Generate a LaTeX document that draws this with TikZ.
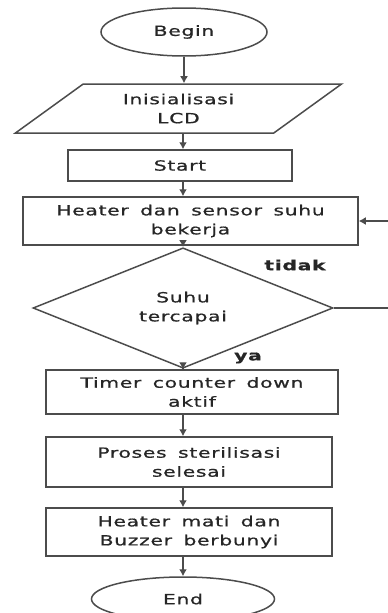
\documentclass[tikz,border=0pt]{standalone}
\usepackage{fontspec}
\setmainfont{DejaVu Sans}[FakeStretch=1.45,LetterSpace=5,WordSpace=1.6,FakeBold=0.8]
\usepackage{tikz}
\usetikzlibrary{shapes.geometric,arrows.meta}
\tikzset{
  every node/.style={
    font=\fontsize{14}{19}\selectfont,
    text=black!85
  },
  line/.style={
    draw=black!70,
    line width=1.5pt
  },
  flow/.style={
    line,
    -{Latex[length=7pt,width=8pt]}
  },
  terminal/.style={
    shape=ellipse,
    line,
    inner sep=0pt
  },
  io/.style={
    shape=trapezium,
    trapezium left angle=37,
    trapezium right angle=143,
    trapezium stretches=true,
    line,
    inner sep=0pt,
    align=center
  },
  process/.style={
    shape=rectangle,
    line,
    inner sep=0pt,
    align=center
  },
  decision/.style={
    shape=diamond,
    line,
    inner sep=0pt,
    align=center
  },
  branch/.style={
    font=\bfseries\fontsize{14}{19}\selectfont
  }
}

\begin{document}
\begin{tikzpicture}[x=1pt,y=-1pt]

\useasboundingbox (0,0) rectangle (388,613);

\node [terminal, minimum width=166pt, minimum height=48pt] (begin) at (184,32) {Begin};
\node [io, minimum width=327pt, minimum height=49pt] (init) at (178.5,108.5) {Inisialisasi\\LCD};
\node [process, minimum width=224pt, minimum height=31pt] (start) at (180,165.5) {Start};
\node [process, minimum width=335pt, minimum height=48pt] (heat) at (190.5,221) {Heater dan sensor suhu\\bekerja};
\node [decision, minimum width=300pt, minimum height=96pt] (cek) at (183,308) {Suhu\\tercapai};
\node [process, minimum width=292pt, minimum height=44pt] (timer) at (192,392) {Timer counter down\\aktif};
\node [process, minimum width=286pt, minimum height=50pt] (steril) at (189,462) {Proses sterilisasi\\selesai};
\node [process, minimum width=286pt, minimum height=48pt] (off) at (189,532) {Heater mati dan\\Buzzer berbunyi};
\node [terminal, minimum width=183pt, minimum height=44pt] (end) at (183,599) {End};

\node [branch] (tidak) at (295,265) {tidak};
\node [branch] (ya) at (248,358) {ya};

% jalur utama
\draw [flow] (begin.south) -- (begin.south |- init.north);
\draw [flow] (init.south -| cek.north) -- (cek.north |- start.north);
\draw [flow] (start.south -| cek.north) -- (cek.north |- heat.north);
\draw [flow] (heat.south -| cek.north) -- (cek.north);
\draw [flow] (cek.south) -- (cek.south |- timer.north);
\draw [flow] (timer.south -| cek.south) -- (cek.south |- steril.north);
\draw [flow] (steril.south -| cek.south) -- (cek.south |- off.north);
\draw [flow] (off.south -| cek.south) -- (cek.south |- end.north);

% kembali jika suhu belum tercapai
\coordinate (loop) at (394,308);
\draw [flow] (cek.east) -- (loop) |- (heat.east);

\end{tikzpicture}
\end{document}
